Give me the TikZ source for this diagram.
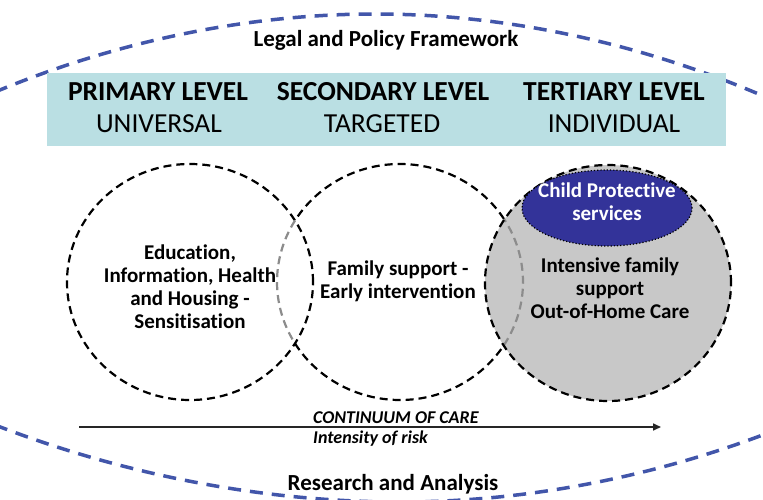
\documentclass[tikz,border=0pt]{standalone}
\usepackage{fontspec}
\setmainfont{Carlito}[Ligatures={NoCommon}]
\usetikzlibrary{arrows.meta,shapes.geometric}
\definecolor{bannerc}{RGB}{186,223,227}
\definecolor{arcblue}{RGB}{66,86,170}
\definecolor{cpsblue}{RGB}{51,51,153}
\definecolor{greyfill}{RGB}{200,200,200}
\definecolor{innergrey}{RGB}{140,140,140}
\begin{document}
\begin{tikzpicture}[x=1pt,y=-1pt,
  framearc/.style={draw=arcblue, line width=3.5pt, dash pattern=on 13pt off 9pt},
  ringline/.style={line width=2.2pt, dash pattern=on 8pt off 5pt},
  ringgrey/.style={ringline, draw=innergrey},
  ringsize/.style={x radius=123pt, y radius=118pt},
  frametext/.style={font=\fontsize{23}{27}\selectfont\bfseries, anchor=base},
  leveltitle/.style={font=\fontsize{27.5}{32}\selectfont\bfseries, anchor=base},
  levelsub/.style={font=\fontsize{27.5}{32}\selectfont, anchor=base},
  ringtext/.style={font=\fontsize{21}{23}\selectfont\bfseries, align=center, inner sep=0pt},
  axistext/.style={font=\fontsize{18}{21}\selectfont\bfseries\itshape, anchor=base west, inner sep=0pt}
]
\useasboundingbox (0,0) rectangle (763,500);
\fill[white] (0,0) rectangle (763,500);
% frame arcs
\begin{scope}
\clip (0,0) rectangle (763,500);
\coordinate (tL) at (-5,92);
\coordinate (tB) at (375,14);
\coordinate (tR) at (768,98);
\draw[framearc] (tL) parabola bend (tB) (tR);
\coordinate (bL) at (-5,425);
\coordinate (bB) at (400,502);
\coordinate (bR) at (768,433);
\draw[framearc] (bL) parabola bend (bB) (bR);
\end{scope}
% banner
\fill[bannerc] (47,73) rectangle (726,146);
\node[frametext] (legal) at (386,47) {Legal and Policy Framework};
\node[frametext] (research) at (393,490) {Research and Analysis};
\node[leveltitle] (prim) at (158,101) {PRIMARY LEVEL};
\node[leveltitle] (sec) at (383,101) {SECONDARY LEVEL};
\node[leveltitle] (ter) at (614,101) {TERTIARY LEVEL};
\node[levelsub] (univ) at (159,132) {UNIVERSAL};
\node[levelsub] (targ) at (382,132) {TARGETED};
\node[levelsub] (indiv) at (614,132) {INDIVIDUAL};
% circles
\coordinate (cL) at (190,282);
\coordinate (cM) at (400,282);
\coordinate (cR) at (608,283);
\fill[greyfill] (cR) ellipse [ringsize];
\draw[ringline] (cL) ellipse [ringsize];
\draw[ringline] ([shift={(32.27:123pt and 118pt)}]cM) arc[start angle=32.27, end angle=148.61, ringsize];
\draw[ringgrey] ([shift={(148.61:123pt and 118pt)}]cM) arc[start angle=148.61, end angle=211.39, ringsize];
\draw[ringline] ([shift={(211.39:123pt and 118pt)}]cM) arc[start angle=211.39, end angle=327.73, ringsize];
\draw[ringgrey] ([shift={(-32.27:123pt and 118pt)}]cM) arc[start angle=-32.27, end angle=32.27, ringsize];
\draw[ringline] (cR) ellipse [ringsize];
% child protective services
\node[ellipse, draw=black, fill=cpsblue, line width=1.2pt, dotted, minimum width=170pt, minimum height=76pt, inner sep=0pt] (cps) at (607,208) {};
\node[ringtext, text=white] (cpstext) at (607,202) {Child Protective\\services};
% circle texts
\node[ringtext] (ltext) at (190,286.5) {Education,\\Information, Health\\and Housing -\\Sensitisation};
\node[ringtext] (mtext) at (398,281.5) {Family support -\\Early intervention};
\node[ringtext] (rtext) at (610,288) {Intensive family\\support\\Out-of-Home Care};
% axis
\coordinate (aS) at (79,427);
\coordinate (aE) at (661,427);
\draw[line width=1.6pt, draw=black!85, -{Triangle[length=8pt,width=7pt]}] (aS) -- (aE);
\node[axistext] (cont) at (313,423) {CONTINUUM OF CARE};
\node[axistext] (risk) at (313,443) {Intensity of risk};
\end{tikzpicture}
\end{document}
